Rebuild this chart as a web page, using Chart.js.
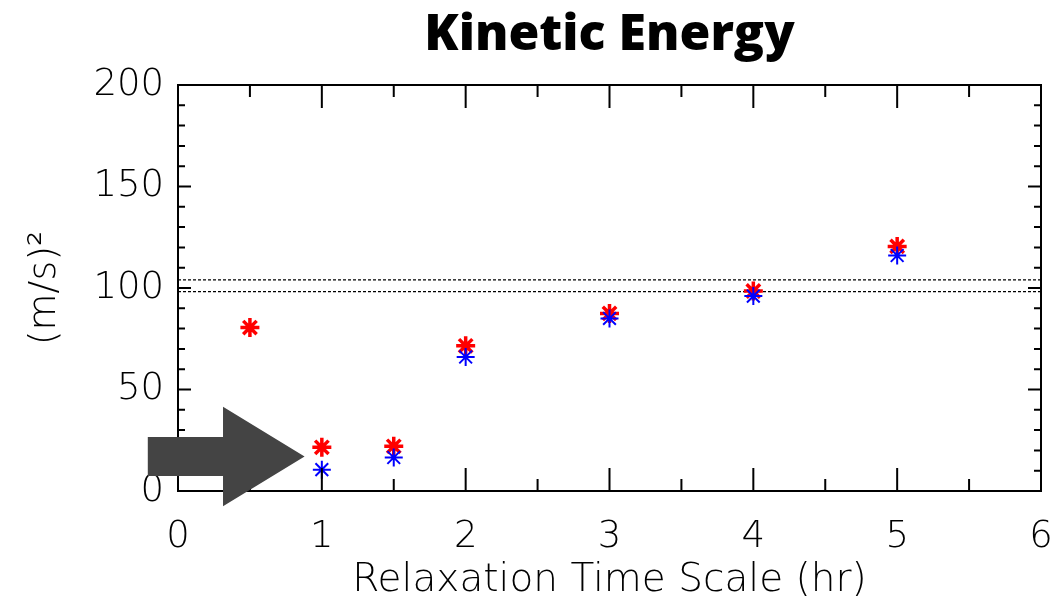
<!DOCTYPE html>
<html><head><meta charset="utf-8">
<script src="https://cdn.jsdelivr.net/npm/chart.js@4.4.1/dist/chart.umd.min.js"></script>
<style>html,body{margin:0;padding:0;background:#fff;} canvas{display:block;}</style>
</head><body>
<canvas id="c" width="1058" height="607"></canvas>
<script>
// ---- data ----
const chartTitle = 'Kinetic Energy';
const xAxisTitle = 'Relaxation Time Scale (hr)';
const yAxisTitle = '(m/s)²';
const redX = [0.5, 1, 1.5, 2, 3, 4, 5];
const redY = [80.5, 21.5, 22, 71.5, 87.5, 98.5, 120.5];
const blueX = [1, 1.5, 2, 3, 4, 5];
const blueY = [10.5, 16.5, 66, 85, 96, 116];
const refLevels = [104, 98.2];
const xTickValues = [0, 1, 2, 3, 4, 5, 6];
const yTickValues = [0, 50, 100, 150, 200];
const xMinorStep = 0.5;
const yMinorStep = 10;
// arrow annotation, in data units
const arrowNote = {tailX: -0.21, baseX: 0.313, tipX: 0.88, centerY: 17.0, shaftHalf: 9.6, headHalf: 24.5};

const toPts = (xs, ys) => xs.map((v, i) => ({x: v, y: ys[i]}));
const xMin = xTickValues[0], xMax = xTickValues[xTickValues.length - 1];
const yMin = yTickValues[0], yMax = yTickValues[yTickValues.length - 1];

const frameTicks = {
  id: 'frameTicks',
  afterDraw(chart) {
    const {ctx, chartArea: a, scales: {x, y}} = chart;
    ctx.save();
    ctx.strokeStyle = '#000';
    ctx.lineWidth = 2;
    ctx.beginPath();
    for (let v = xMin; v <= xMax + 1e-9; v += xMinorStep) {
      const px = x.getPixelForValue(v);
      const len = xTickValues.some(t => Math.abs(t - v) < 1e-9) ? 23 : 12;
      ctx.moveTo(px, a.bottom); ctx.lineTo(px, a.bottom - len);
      ctx.moveTo(px, a.top); ctx.lineTo(px, a.top + len);
    }
    for (let v = yMin; v <= yMax + 1e-9; v += yMinorStep) {
      const py = y.getPixelForValue(v);
      const len = yTickValues.some(t => Math.abs(t - v) < 1e-9) ? 13 : 7;
      ctx.moveTo(a.left, py); ctx.lineTo(a.left + len, py);
      ctx.moveTo(a.right, py); ctx.lineTo(a.right - len, py);
    }
    ctx.stroke();
    ctx.strokeRect(a.left, a.top, a.right - a.left, a.bottom - a.top);
    // arrow annotation
    const n = arrowNote;
    const X = v => x.getPixelForValue(v), Y = v => y.getPixelForValue(v);
    ctx.fillStyle = '#444444';
    ctx.beginPath();
    ctx.moveTo(X(n.tailX), Y(n.centerY + n.shaftHalf));
    ctx.lineTo(X(n.baseX), Y(n.centerY + n.shaftHalf));
    ctx.lineTo(X(n.baseX), Y(n.centerY + n.headHalf));
    ctx.lineTo(X(n.tipX), Y(n.centerY));
    ctx.lineTo(X(n.baseX), Y(n.centerY - n.headHalf));
    ctx.lineTo(X(n.baseX), Y(n.centerY - n.shaftHalf));
    ctx.lineTo(X(n.tailX), Y(n.centerY - n.shaftHalf));
    ctx.closePath();
    ctx.fill();
    ctx.restore();
  }
};

const lightFont = (size) => ({family: '"DejaVu Sans", sans-serif', weight: '200', size: size});

new Chart(document.getElementById('c'), {
  type: 'scatter',
  data: {
    datasets: [
      {label: 'blue', data: toPts(blueX, blueY), pointStyle: 'star', pointRadius: 9,
       borderColor: '#0000ff', backgroundColor: '#0000ff', pointBorderWidth: 2, order: 1},
      {label: 'red', data: toPts(redX, redY), pointStyle: 'star', pointRadius: 9.5,
       borderColor: '#ff0000', backgroundColor: '#ff0000', pointBorderWidth: 3.5, order: 2},
      ...refLevels.map((lv, i) => ({
        label: 'ref' + i, type: 'line', data: [{x: xMin, y: lv}, {x: xMax, y: lv}],
        borderColor: '#000', borderWidth: 1.3, borderDash: [3, 2], pointRadius: 0, order: 3
      }))
    ]
  },
  options: {
    responsive: false,
    animation: false,
    layout: {padding: {left: 0, right: 17, top: 0, bottom: 0}},
    plugins: {legend: {display: false}, tooltip: {enabled: false}, title: {display: false}},
    scales: {
      x: {
        type: 'linear', position: 'bottom', min: xMin, max: xMax,
        grid: {display: false, drawTicks: false}, border: {display: false},
        ticks: {stepSize: 1, padding: 24, color: '#000', font: lightFont(37), maxRotation: 0},
        title: {display: true, text: xAxisTitle, color: '#000', font: lightFont(39), padding: {top: 0, bottom: 3}},
        afterFit: s => { s.height = 116; s.paddingLeft = 0; s.paddingRight = 0; }
      },
      x2: {
        type: 'linear', position: 'top', min: xMin, max: xMax,
        grid: {display: false, drawTicks: false}, border: {display: false},
        ticks: {display: false},
        title: {display: true, text: chartTitle, color: '#000',
                font: {family: '"Open Sans", sans-serif', weight: '800', size: 50}, padding: {top: 6, bottom: 0}},
        afterFit: s => { s.height = 85; s.paddingLeft = 0; s.paddingRight = 0; }
      },
      y: {
        type: 'linear', position: 'left', min: yMin, max: yMax,
        grid: {display: false, drawTicks: false}, border: {display: false},
        ticks: {stepSize: 50, padding: 14, color: '#000', font: lightFont(37)},
        title: {display: true, text: yAxisTitle, color: '#000', font: lightFont(38), padding: {top: 22, bottom: 0}},
        afterFit: s => { s.width = 178; s.paddingTop = 0; s.paddingBottom = 0; }
      }
    }
  },
  plugins: [frameTicks]
});
</script>
</body></html>
